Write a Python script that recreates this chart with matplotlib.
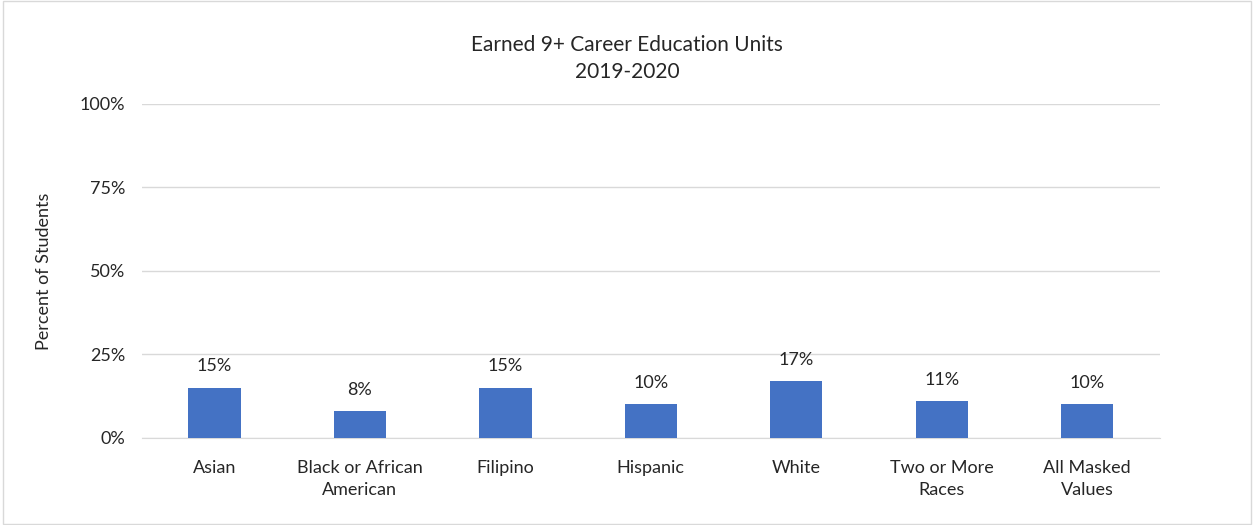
import matplotlib.pyplot as plt
import numpy as np

plt.rcParams['font.family'] = ['Lato', 'DejaVu Sans']

groups = ["Asian", "Black or African\nAmerican", "Filipino", "Hispanic", "White",
          "Two or More\nRaces", "All Masked\nValues"]
percents = [15, 8, 15, 10, 17, 11, 10]
yticks = [0, 25, 50, 75, 100]

fig = plt.figure(figsize=(12.54, 5.25), dpi=100)
ax = fig.add_axes([0.113, 0.166, 0.812, 0.636])

x = np.arange(len(groups))
ax.bar(x, percents, width=0.36, color="#4472C4", zorder=3)
for xi, v in zip(x, percents):
    ax.text(xi, v + 4, f"{v}%", ha="center", va="bottom", fontsize=13, color="#262626")

ax.set_ylim(0, 100)
ax.set_xlim(-0.5, len(groups) - 0.5)
ax.set_yticks(yticks)
ax.set_yticklabels([f"{t}%" for t in yticks])
ax.set_xticks(x)
ax.set_xticklabels(groups, linespacing=1.45)
ax.tick_params(axis="both", length=0, labelsize=13, colors="#262626")
ax.tick_params(axis="y", pad=12)
ax.tick_params(axis="x", pad=16)
ax.grid(axis="y", color="#d9d9d9", linewidth=1, zorder=0)
for s in ["top", "right", "left"]:
    ax.spines[s].set_visible(False)
ax.spines["bottom"].set_color("#d9d9d9")
ax.set_ylabel("Percent of Students", fontsize=13, color="#262626", labelpad=20)

fig.text(0.5, 0.915, "Earned 9+ Career Education Units", ha="center", va="center",
         fontsize=15, color="#262626")
fig.text(0.5, 0.862, "2019-2020", ha="center", va="center", fontsize=15, color="#262626")

fig.patches.append(plt.Rectangle((0.002, 0.002), 0.996, 0.996, transform=fig.transFigure,
                                 fill=False, edgecolor="#d9d9d9", linewidth=1))

fig.savefig("out.png", dpi=100)
